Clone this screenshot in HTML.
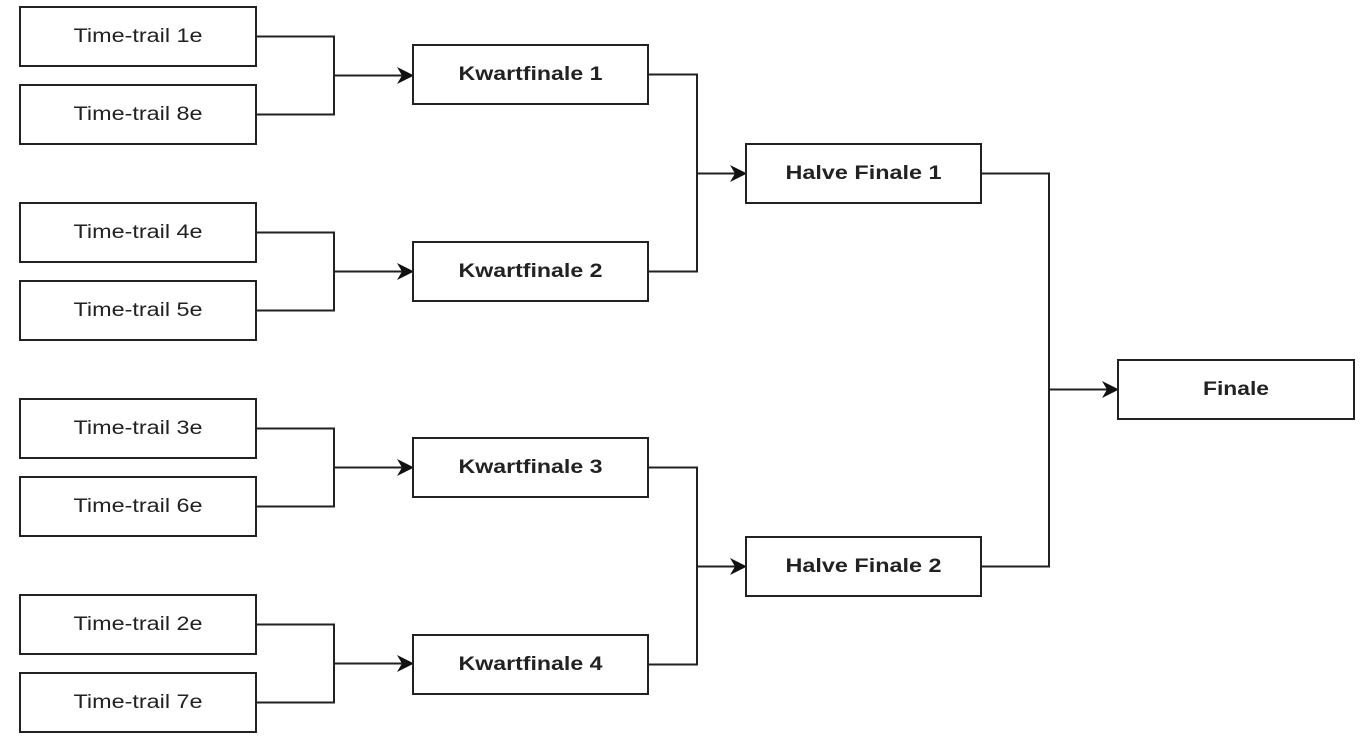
<!DOCTYPE html>
<html><head><meta charset="utf-8"><style>
html,body{margin:0;padding:0;background:#fff;}
svg{display:block;}
text{font-family:"Liberation Sans",Arial,sans-serif;font-size:19px;fill:#222;text-anchor:middle;dominant-baseline:central;}
.b{font-weight:bold;}
rect{fill:#fff;stroke:#222;stroke-width:2;}
path{fill:none;stroke:#222;stroke-width:2;}
polygon{fill:#111;}
</style></head><body>
<svg width="1370" height="738" viewBox="0 0 1370 738">
<path d="M256 36.5H334V114.5H256M334 75.5H405"/>
<path d="M256 232.5H334V310.5H256M334 271.5H405"/>
<path d="M256 428.5H334V506.5H256M334 467.5H405"/>
<path d="M256 624.5H334V702.5H256M334 663.5H405"/>
<path d="M648 74.5H697V271.5H648M697 173.5H738"/>
<path d="M648 467.5H697V664.5H648M697 566.5H738"/>
<path d="M981 173.5H1049V566.5H981M1049 389.5H1110"/>
<polygon points="414,75.5 397,67 402,75.5 397,84"/>
<polygon points="414,271.5 397,263 402,271.5 397,280"/>
<polygon points="414,467.5 397,459 402,467.5 397,476"/>
<polygon points="414,663.5 397,655 402,663.5 397,672"/>
<polygon points="747,173.5 730,165 735,173.5 730,182"/>
<polygon points="747,566.5 730,558 735,566.5 730,575"/>
<polygon points="1119,389.5 1102,381 1107,389.5 1102,398"/>
<rect x="20" y="7" width="236" height="59"/><text x="138" y="36.5" textLength="129" lengthAdjust="spacingAndGlyphs">Time-trail 1e</text>
<rect x="20" y="85" width="236" height="59"/><text x="138" y="114.5" textLength="129" lengthAdjust="spacingAndGlyphs">Time-trail 8e</text>
<rect x="20" y="203" width="236" height="59"/><text x="138" y="232.5" textLength="129" lengthAdjust="spacingAndGlyphs">Time-trail 4e</text>
<rect x="20" y="281" width="236" height="59"/><text x="138" y="310.5" textLength="129" lengthAdjust="spacingAndGlyphs">Time-trail 5e</text>
<rect x="20" y="399" width="236" height="59"/><text x="138" y="428.5" textLength="129" lengthAdjust="spacingAndGlyphs">Time-trail 3e</text>
<rect x="20" y="477" width="236" height="59"/><text x="138" y="506.5" textLength="129" lengthAdjust="spacingAndGlyphs">Time-trail 6e</text>
<rect x="20" y="595" width="236" height="59"/><text x="138" y="624.5" textLength="129" lengthAdjust="spacingAndGlyphs">Time-trail 2e</text>
<rect x="20" y="673" width="236" height="59"/><text x="138" y="702.5" textLength="129" lengthAdjust="spacingAndGlyphs">Time-trail 7e</text>
<rect x="413" y="45" width="235" height="59"/><text class="b" x="530.5" y="74.5" textLength="144" lengthAdjust="spacingAndGlyphs">Kwartfinale 1</text>
<rect x="413" y="242" width="235" height="59"/><text class="b" x="530.5" y="271.5" textLength="144" lengthAdjust="spacingAndGlyphs">Kwartfinale 2</text>
<rect x="413" y="438" width="235" height="59"/><text class="b" x="530.5" y="467.5" textLength="144" lengthAdjust="spacingAndGlyphs">Kwartfinale 3</text>
<rect x="413" y="635" width="235" height="59"/><text class="b" x="530.5" y="664.5" textLength="144" lengthAdjust="spacingAndGlyphs">Kwartfinale 4</text>
<rect x="746" y="144" width="235" height="59"/><text class="b" x="863.5" y="173.5" textLength="156" lengthAdjust="spacingAndGlyphs">Halve Finale 1</text>
<rect x="746" y="537" width="235" height="59"/><text class="b" x="863.5" y="566.5" textLength="156" lengthAdjust="spacingAndGlyphs">Halve Finale 2</text>
<rect x="1118" y="360" width="236" height="59"/><text class="b" x="1236" y="389.5" textLength="66" lengthAdjust="spacingAndGlyphs">Finale</text>
</svg>
</body></html>
